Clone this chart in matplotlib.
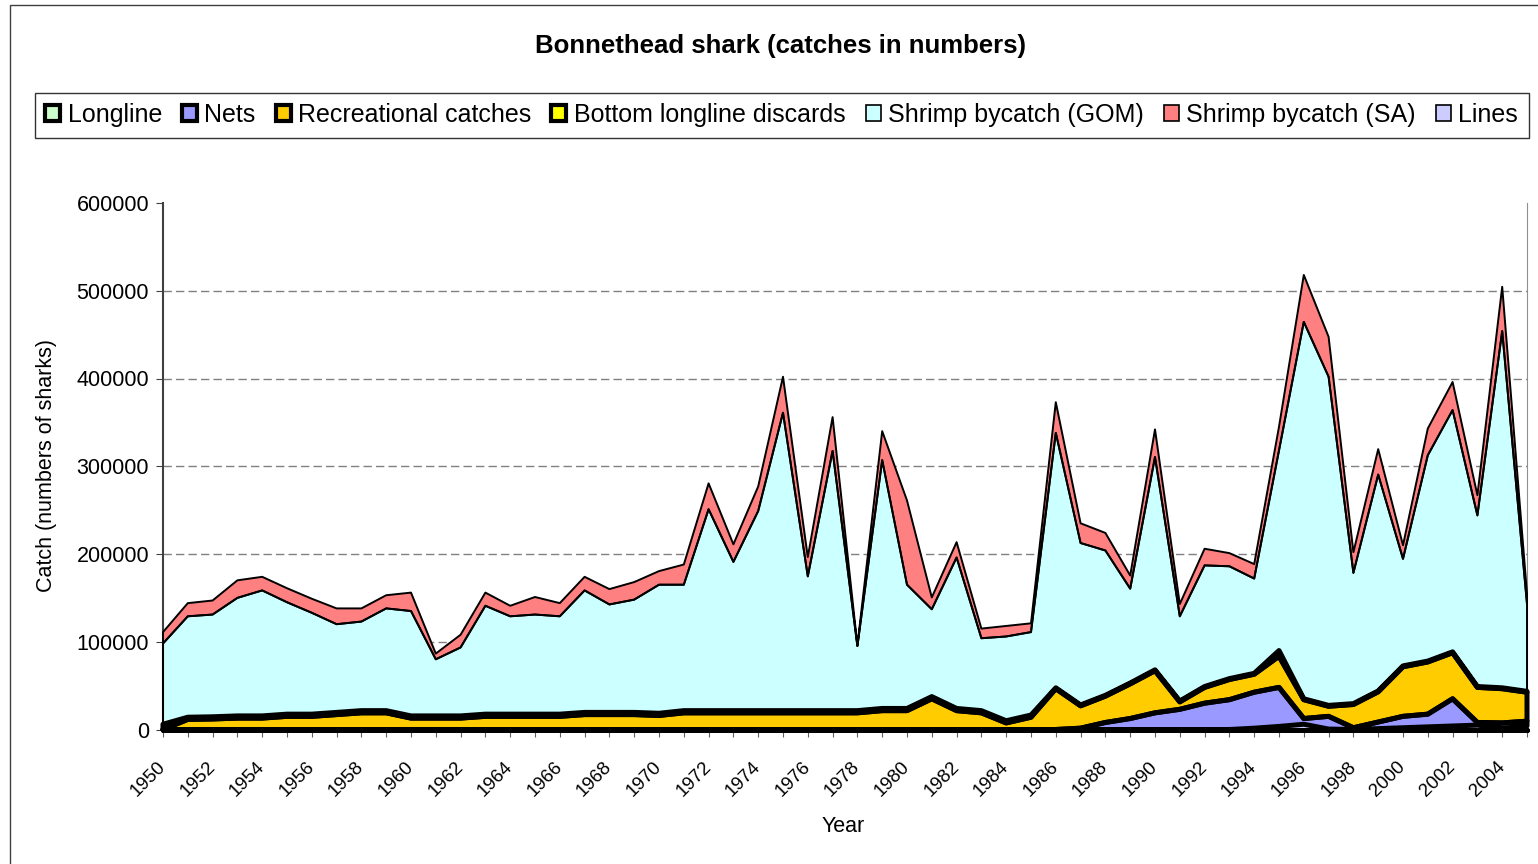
import matplotlib.pyplot as plt
import matplotlib.patches as mpatches
import numpy as np

years = list(range(1950, 2006))
tick_labels = [str(y) if y % 2 == 0 else "" for y in years]

longline = [0, 0, 0, 0, 0, 0, 0, 0, 0, 0, 0, 0, 0, 0, 0, 0, 0, 0, 0, 0,
            0, 0, 0, 0, 0, 0, 0, 0, 0, 0, 0, 0, 0, 0, 0, 0, 0, 0, 0, 0,
            0, 0, 0, 0, 0, 0, 0, 0, 0, 0, 0, 0, 0, 0, 0, 0]
nets = [0, 0, 0, 0, 0, 0, 0, 0, 0, 0, 0, 0, 0, 0, 0, 0, 0, 0, 0, 0,
        0, 0, 0, 0, 0, 0, 0, 0, 0, 0, 0, 0, 0, 0, 0, 0, 0, 1500, 8000, 12500,
        19000, 23000, 30000, 34000, 41000, 44500, 6500, 14500, 2000, 7500, 13000, 14500, 31000, 3000, 6000, 5500]
recreational = [0, 11500, 12000, 13000, 13000, 15000, 15000, 17000, 19000, 19000,
                13000, 13000, 13000, 15000, 15000, 15000, 15000, 17000, 17000, 17000,
                16000, 19000, 19000, 19000, 19000, 19000, 19000, 19000, 19000, 21500,
                21500, 35000, 21500, 19000, 7500, 14000, 46500, 25500, 30000, 39500,
                48000, 8500, 18000, 23000, 20500, 35500, 21500, 11500, 26500, 34500,
                56500, 59500, 52500, 40000, 39000, 33000]
bll_discards = [6000, 2500, 2500, 2500, 2500, 2500, 2500, 2500, 2500, 2500,
                2500, 2500, 2500, 2500, 2500, 2500, 2500, 2500, 2500, 2500,
                2500, 2500, 2500, 2500, 2500, 2500, 2500, 2500, 2500, 2500,
                2500, 2500, 2500, 2500, 2500, 2500, 1000, 1000, 1000, 1000,
                1000, 1000, 1000, 1000, 1000, 6500, 1000, 1000, 1000, 1000,
                1000, 1000, 1000, 1000, 1000, 1000]
shrimp_gom = [92000, 115000, 116500, 134500, 143000, 127500, 115500, 100500, 101500, 116500,
              119500, 64500, 78000, 123500, 111500, 113500, 111500, 139000, 123000, 128500,
              146500, 143500, 229500, 169500, 227500, 339500, 153000, 296000, 73500, 283000,
              141000, 99500, 172000, 82500, 96000, 94500, 290500, 184500, 165000, 107500,
              242500, 96500, 138000, 128000, 108000, 228000, 429500, 374500, 149000, 246500,
              122000, 234500, 275500, 195000, 406500, 99500]
shrimp_sa = [13000, 15000, 16000, 20000, 15500, 16000, 16000, 18000, 15000, 15000,
             21000, 6500, 14500, 15000, 12000, 20000, 15000, 15500, 17500, 20000,
             15500, 23000, 29500, 20000, 28000, 41000, 22000, 38500, 1000, 33000,
             96000, 13500, 17500, 11000, 12000, 10000, 35000, 22500, 20000, 15000,
             31500, 14000, 19000, 15000, 16500, 27000, 53500, 45500, 23500, 29000,
             15500, 30500, 32000, 23000, 50500, 12000]
lines = [0, 0, 0, 0, 0, 0, 0, 0, 0, 0, 0, 0, 0, 0, 0, 0, 0, 0, 0, 0,
         0, 0, 0, 0, 0, 0, 0, 0, 0, 0, 0, 0, 0, 0, 0, 0, 0, 0, 0, 0,
         0, 0, 0, 0, 1500, 3500, 6000, 500, 0, 1000, 2000, 3000, 4000, 5000, 1500, 4000]


def plot_catches(output_file):
    plt.rcParams["font.family"] = ["Liberation Sans", "DejaVu Sans"]
    W, H = 1538, 864
    fig = plt.figure(figsize=(W / 100, H / 100), dpi=100)
    ax = fig.add_axes([163 / W, 1 - 729.5 / H, (1527 - 163) / W, (729.5 - 203) / H])

    # stacking order (bottom -> top); legend order is different
    stack = [
        ("Longline", longline, "#CCFFCC", 3.6),
        ("Lines", lines, "#CCCCFF", 1.3),
        ("Nets", nets, "#9999FF", 3.6),
        ("Recreational catches", recreational, "#FFCC00", 3.6),
        ("Bottom longline discards", bll_discards, "#FFFF00", 3.6),
        ("Shrimp bycatch (GOM)", shrimp_gom, "#CCFFFF", 1.4),
        ("Shrimp bycatch (SA)", shrimp_sa, "#FF8080", 1.4),
    ]
    bottom = np.zeros(len(years))
    outlines = []
    for name, vals, color, lw in stack:
        top = bottom + np.array(vals)
        ax.fill_between(years, bottom, top, facecolor=color, edgecolor="none", zorder=2)
        outlines.append((bottom.copy(), top.copy(), lw))
        bottom = top
    for lo, hi, lw in outlines:
        ax.fill_between(years, lo, hi, facecolor="none", edgecolor="black",
                        linewidth=lw, zorder=3, clip_on=False)

    for v in range(100000, 600000, 100000):
        ax.axhline(v, color="#808080", linewidth=1.0, linestyle=(0, (6, 3)), zorder=1)

    ax.set_xlim(1950, 2005)
    ax.set_ylim(0, 600000)
    ax.set_xticks(years)
    ax.set_xticklabels(tick_labels, rotation=45, ha="right", va="center",
                       rotation_mode="anchor", fontsize=13.5)
    yt = list(range(0, 600001, 100000))
    ax.set_yticks(yt)
    ax.set_yticklabels([str(v) for v in yt], fontsize=15.5)
    ax.tick_params(axis="x", direction="out", length=5, pad=20, color="#606060")
    ax.tick_params(axis="y", direction="out", length=5, pad=5, color="#404040")

    ax.spines["top"].set_visible(False)
    ax.spines["right"].set_color("#909090")
    ax.spines["left"].set_color("#404040")
    ax.spines["left"].set_linewidth(1.5)
    ax.spines["bottom"].set_color("black")
    ax.set_facecolor("white")

    fig.text(843 / W, 1 - 826 / H, "Year", ha="center", va="center", fontsize=15.5)
    fig.text(47 / W, 1 - 465 / H, "Catch (numbers of sharks)", rotation=90,
             ha="center", va="center", fontsize=15.5)
    fig.text(780 / W, 1 - 46 / H, "Bonnethead shark (catches in numbers)",
             ha="center", va="center", fontsize=18.5, fontweight="bold")

    legend_items = [
        ("Longline", "#CCFFCC", 3.0),
        ("Nets", "#9999FF", 3.0),
        ("Recreational catches", "#FFCC00", 3.0),
        ("Bottom longline discards", "#FFFF00", 3.0),
        ("Shrimp bycatch (GOM)", "#CCFFFF", 1.2),
        ("Shrimp bycatch (SA)", "#FF8080", 1.2),
        ("Lines", "#CCCCFF", 1.2),
    ]
    handles = [mpatches.Patch(facecolor=c, edgecolor="black", linewidth=lw, label=n)
               for n, c, lw in legend_items]
    leg = fig.legend(handles=handles, loc="center", bbox_to_anchor=(781.5 / W, 1 - 115 / H),
                     ncol=7, fontsize=18, frameon=True, fancybox=False,
                     edgecolor="black", handlelength=0.6, handleheight=0.6,
                     handletextpad=0.3, columnspacing=0.8, borderpad=0.42)
    leg.get_frame().set_linewidth(1.0)

    fig.add_artist(mpatches.Rectangle((10 / W, -0.02), 1.2, 1 - 5 / H + 0.02,
                                      transform=fig.transFigure, fill=False,
                                      edgecolor="#404040", linewidth=1.0))

    plt.savefig(output_file, dpi=100)


if __name__ == "__main__":
    plot_catches("out.png")
